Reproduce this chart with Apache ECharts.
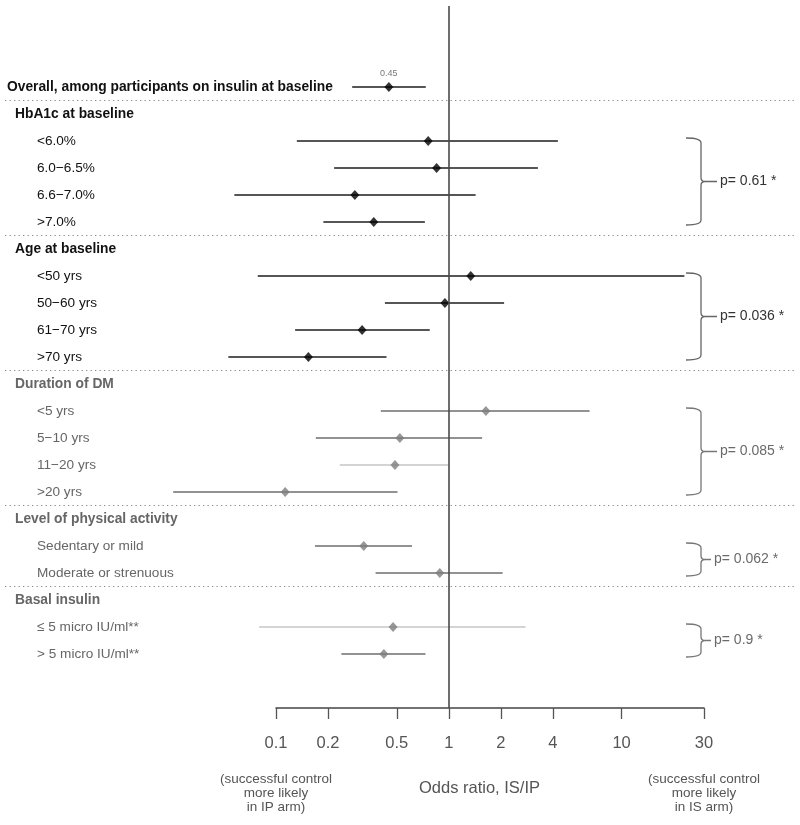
<!DOCTYPE html>
<html><head><meta charset="utf-8">
<script src="https://cdn.jsdelivr.net/npm/echarts@6/dist/echarts.min.js"></script>
<style>html,body{margin:0;padding:0;background:#fff}#c{width:800px;height:825px}</style>
</head><body><div id="c"></div>
<script>
// ---------------- data ----------------
const overallLabel = 'Overall, among participants on insulin at baseline';
const overallOR = 0.45;
const overallLower = 0.276;
const overallUpper = 0.736;

const groupNames = ['HbA1c at baseline', 'Age at baseline', 'Duration of DM', 'Level of physical activity', 'Basal insulin'];
const subgroupLabels = [
  ['<6.0%', '6.0\u22126.5%', '6.6\u22127.0%', '>7.0%'],
  ['<50 yrs', '50\u221260 yrs', '61\u221270 yrs', '>70 yrs'],
  ['<5 yrs', '5\u221210 yrs', '11\u221220 yrs', '>20 yrs'],
  ['Sedentary or mild', 'Moderate or strenuous'],
  ['\u2264 5 micro IU/ml**', '> 5 micro IU/ml**']
];
const oddsRatios = [
  [0.76, 0.85, 0.286, 0.368],
  [1.34, 0.95, 0.315, 0.154],
  [1.64, 0.521, 0.488, 0.113],
  [0.322, 0.887],
  [0.476, 0.421]
];
const ciLower = [
  [0.132, 0.217, 0.0574, 0.188],
  [0.0784, 0.427, 0.129, 0.053],
  [0.404, 0.170, 0.234, 0.0254],
  [0.168, 0.377],
  [0.0798, 0.239]
];
const ciUpper = [
  [4.28, 3.28, 1.43, 0.727],
  [23.1, 2.09, 0.776, 0.436],
  [6.53, 1.56, 1.0, 0.505],
  [0.613, 2.05],
  [2.78, 0.733]
];
const pValues = ['p= 0.61 *', 'p= 0.036 *', 'p= 0.085 *', 'p= 0.062 *', 'p= 0.9 *'];
const tickValues = [0.1, 0.2, 0.5, 1, 2, 4, 10, 30];
const xAxisTitle = 'Odds ratio, IS/IP';
const leftNote = ['(successful control', 'more likely', 'in IP arm)'];
const rightNote = ['(successful control', 'more likely', 'in IS arm)'];

// ---------------- styles ----------------
const FONT = '"Liberation Sans", Arial, sans-serif';
const groupTone = ['dark', 'dark', 'gray', 'gray', 'gray'];
const tones = {
  dark: { text: '#111', line: '#1e1e1e', mark: '#000', p: '#333', bracket: '#666' },
  gray: { text: '#666', line: '#6e6e6e', mark: '#7d7d7d', p: '#6a6a6a', bracket: '#777' }
};
const faintRows = { '2-2': true, '4-0': true };

// ---------------- build rows ----------------
const rowLabelRich = [];
const ciItems = [];
const pointItems = [];
const bracketItems = [];
const separators = [0.5];

rowLabelRich.push('{ov|' + overallLabel + '}');
ciItems.push({ value: [overallLower, overallUpper, 0], tone: 'dark', faint: false });
pointItems.push({
  value: [overallOR, 0],
  itemStyle: { color: tones.dark.mark },
  label: { show: true, position: 'top', distance: 4, formatter: String(overallOR), fontSize: 9, color: '#555', fontFamily: FONT }
});
let r = 1;
groupNames.forEach(function (g, gi) {
  const tn = groupTone[gi];
  rowLabelRich.push('{' + (tn === 'dark' ? 'hd' : 'hg') + '|' + g + '}');
  r++;
  const start = r;
  subgroupLabels[gi].forEach(function (lab, i) {
    rowLabelRich.push('{' + (tn === 'dark' ? 'it' : 'ig') + '|' + lab + '}');
    ciItems.push({ value: [ciLower[gi][i], ciUpper[gi][i], r], tone: tn, faint: !!faintRows[gi + '-' + i] });
    pointItems.push({ value: [oddsRatios[gi][i], r], itemStyle: { color: tones[tn].mark } });
    r++;
  });
  bracketItems.push({ value: [start, r - 1, gi] });
  if (gi < groupNames.length - 1) separators.push(r - 0.5);
});

// ---------------- layout ----------------
const GB = { left: 276, right: 96, top: 6, bottom: 117 };
const GA = { left: 5, right: 5, top: 6, bottom: 117 };
const tMin = tickValues[0], tMax = tickValues[tickValues.length - 1];
const pxPerDecade = (800 - GB.left - GB.right) / Math.log10(tMax / tMin);
const minA = tMin * Math.pow(10, -(GB.left - GA.left) / pxPerDecade);
const maxA = tMax * Math.pow(10, (GB.right - GA.right) / pxPerDecade);
// visible axis drawn on a log10 value scale (same mapping as the log data axis)
const tickLogs = tickValues.map(v => Math.log10(v));
const endLogs = [tickLogs[0], tickLogs[tickLogs.length - 1]];

function fmtTick(lv) { return String(parseFloat(Math.pow(10, lv).toPrecision(3))); }
function near(a, b) { return Math.abs(a - b) < 1e-9; }

const chart = echarts.init(document.getElementById('c'), null, { renderer: 'canvas' });
chart.setOption({
  animation: false,
  backgroundColor: '#fff',
  grid: [
    { left: GA.left, right: GA.right, top: GA.top, bottom: GA.bottom, containLabel: false, outerBoundsMode: 'none' },
    { left: GB.left, right: GB.right, top: GB.top, bottom: GB.bottom, containLabel: false, outerBoundsMode: 'none' }
  ],
  xAxis: [
    { gridIndex: 0, type: 'log', logBase: 10, min: minA, max: maxA, show: false },
    {
      gridIndex: 1, type: 'value',
      min: endLogs[0], max: endLogs[1],
      position: 'bottom', offset: 0,
      axisLine: { show: true, lineStyle: { color: '#444', width: 1.5 } },
      axisTick: { show: true, customValues: tickLogs, length: 11, lineStyle: { color: '#555', width: 1.3 } },
      splitLine: { show: false },
      axisLabel: {
        show: true, customValues: tickLogs, margin: 26, hideOverlap: false,
        fontFamily: FONT, fontSize: 16.5, color: '#555', lineHeight: 19,
        formatter: function (v) { return fmtTick(v); }
      },
      name: xAxisTitle, nameLocation: 'middle', nameGap: 72, nameMoveOverlap: false,
      nameTextStyle: { fontFamily: FONT, fontSize: 16.5, color: '#555', padding: [0, 21, 0, 0] }
    },
    {
      gridIndex: 1, type: 'value',
      min: endLogs[0], max: endLogs[1],
      position: 'bottom', offset: 0,
      axisLine: { show: false }, axisTick: { show: false }, splitLine: { show: false },
      axisLabel: {
        show: true, customValues: endLogs, margin: 64, hideOverlap: false,
        fontFamily: FONT, fontSize: 13.5, color: '#555', lineHeight: 14,
        formatter: function (v) { return (near(v, endLogs[0]) ? leftNote : rightNote).join('\n'); }
      }
    }
  ],
  yAxis: [
    {
      gridIndex: 0, type: 'value', inverse: true, min: -3, max: 23,
      axisLine: { show: false }, axisTick: { show: false }, splitLine: { show: false },
      axisLabel: {
        show: true, customValues: rowLabelRich.map((_, i) => i), align: 'left', margin: -2, hideOverlap: false,
        formatter: function (v) { return rowLabelRich[Math.round(v)] || ''; },
        rich: {
          ov: { fontFamily: FONT, fontSize: 13.8, fontWeight: 'bold', color: '#111' },
          hd: { fontFamily: FONT, fontSize: 13.8, fontWeight: 'bold', color: '#111', padding: [0, 0, 0, 8] },
          hg: { fontFamily: FONT, fontSize: 13.8, fontWeight: 'bold', color: '#666', padding: [0, 0, 0, 8] },
          it: { fontFamily: FONT, fontSize: 13.6, color: '#111', padding: [0, 0, 0, 30] },
          ig: { fontFamily: FONT, fontSize: 13.6, color: '#666', padding: [0, 0, 0, 30] }
        }
      }
    },
    { gridIndex: 1, type: 'value', min: 0, max: 1, show: false }
  ],
  series: [
    {
      type: 'custom', name: 'ci', xAxisIndex: 0, yAxisIndex: 0,
      encode: { x: [0, 1], y: 2 },
      data: ciItems.map(d => ({ value: d.value })),
      renderItem: function (params, api) {
        const d = ciItems[params.dataIndex];
        const p1 = api.coord([api.value(0), api.value(2)]);
        const p2 = api.coord([api.value(1), api.value(2)]);
        const st = d.faint ? { stroke: '#a9a9a9', lineWidth: 1 } : { stroke: tones[d.tone].line, lineWidth: 1.5 };
        return { type: 'line', shape: { x1: p1[0], y1: p1[1], x2: p2[0], y2: p2[1] }, style: st };
      },
      silent: true, z: 2
    },
    {
      type: 'scatter', name: 'or', xAxisIndex: 0, yAxisIndex: 0,
      symbol: 'diamond', symbolSize: [9, 10],
      data: pointItems, z: 3, silent: true,
      markLine: {
        silent: true, symbol: ['none', 'none'], label: { show: false },
        data: [{ xAxis: 1, lineStyle: { color: '#4a4a4a', width: 1.6, type: 'solid' } }]
          .concat(separators.map(y => ({ yAxis: y, lineStyle: { color: '#8a8a8a', width: 1.2, type: [1.3, 3.2] } })))
      }
    },
    {
      type: 'custom', name: 'brackets', xAxisIndex: 0, yAxisIndex: 0,
      encode: { x: 2, y: [0, 1] },
      data: bracketItems,
      renderItem: function (params, api) {
        const s = api.value(0), e = api.value(1), gi = api.value(2);
        const tn = tones[groupTone[gi]];
        const xb = api.coord([tMax, s])[0] - 3;
        const y1 = api.coord([1, s])[1] - 3;
        const y2 = api.coord([1, e])[1] + 3;
        const ym = (y1 + y2) / 2;
        const tail = (e - s >= 3) ? 16 : 10;
        const hook = 15;
        const path = 'M' + (xb - hook) + ',' + y1 + ' Q' + xb + ',' + y1 + ' ' + xb + ',' + (y1 + 5) +
          ' L' + xb + ',' + (ym - 4) + ' Q' + xb + ',' + ym + ' ' + (xb + 4) + ',' + ym +
          ' L' + (xb + tail) + ',' + ym +
          ' M' + (xb + 4) + ',' + ym + ' Q' + xb + ',' + ym + ' ' + xb + ',' + (ym + 4) +
          ' L' + xb + ',' + (y2 - 5) + ' Q' + xb + ',' + y2 + ' ' + (xb - hook) + ',' + y2;
        return {
          type: 'group', children: [
            { type: 'path', shape: { pathData: path }, style: { fill: 'none', stroke: tn.bracket, lineWidth: 1.3 } },
            { type: 'text', x: xb + tail + 3, y: ym, style: { text: pValues[gi], fill: tn.p, fontFamily: FONT, fontSize: 14, verticalAlign: 'middle', align: 'left' } }
          ]
        };
      },
      silent: true, z: 2
    }
  ]
});
</script>
</body></html>
